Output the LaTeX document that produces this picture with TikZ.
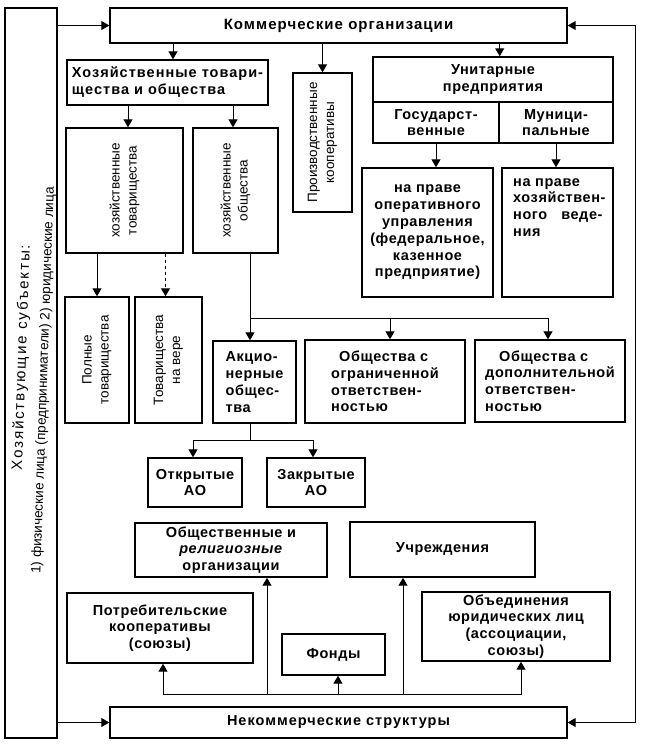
\documentclass[tikz,border=0pt]{standalone}
\usepackage{fontspec}
\setmainfont{Liberation Sans}
\newfontfamily\wide{Liberation Sans}[LetterSpace=4]
\newfontfamily\widee{Liberation Sans}[LetterSpace=7]
\newfontfamily\wider{Liberation Sans}[LetterSpace=13]
\usetikzlibrary{arrows.meta,calc}
\tikzset{
  bx/.style={draw, line width=1.4pt, inner sep=0pt, rectangle},
  tb/.style={align=center, font=\wide\bfseries\fontsize{14.5}{16.8}\selectfont},
  tbw/.style={align=center, font=\widee\bfseries\fontsize{14.5}{17}\selectfont},
  rot/.style={rotate=90, align=center, inner sep=0pt, font=\fontsize{13.5}{17}\selectfont},
  arr/.style={line width=1pt, -{Triangle[length=8pt,width=9pt]}},
  ln/.style={line width=1pt},
  wh/.style 2 args={minimum width=#1pt, minimum height=#2pt},
}
\begin{document}
\begin{tikzpicture}[x=1pt,y=-1pt]
\useasboundingbox (0,0) rectangle (646,752);
% left bar
\node[bx, wh={52}{730}] (leftbar) at (31,373) {};
\node[rotate=88, align=center, inner sep=0pt, font=\fontsize{13.5}{22}\selectfont] (lbtext) at (32,380)
  {\hspace*{44pt}{\wider\fontsize{15}{22}\selectfont Хозяйствующие субъекты:}\\1) физические лица (предприниматели) 2) юридические лица};
% top and bottom
\node[bx, tbw, font=\widee\bfseries\fontsize{15}{17}\selectfont, wh={457}{35}] (komm) at (338.5,25.5) {Коммерческие организации};
\node[bx, tbw, wh={457}{31}] (nekomm) at (338.5,722.5) {Некоммерческие структуры};
% commercial
\node[bx, tbw, align=left, wh={201}{45}] (hto) at (167.5,82.5) {Хозяйственные товари-\\щества и общества};
\node[bx, wh={59}{139}] (prod) at (322.5,142.5) {};
\node[rot] (prodtext) at (prod.center) {Производственные\\кооперативы};
\node[bx, tb, wh={240}{45}] (unitT) at (493,79.5) {Унитарные\\предприятия};
\node[bx, tb, wh={126}{41}] (gos) at (436,122.5) {Государст-\\венные};
\node[bx, tb, wh={114}{41}] (mun) at (556,122.5) {Муници-\\пальные};
\node[bx, tb, wh={131}{129}] (oper) at (427.5,232.5) {на праве\\оперативного\\управления\\(федеральное,\\казенное\\предприятие)};
\node[bx, wh={111}{129}] (hozved) at (557.5,232.5) {};
\node[tb, align=left, anchor=north west, inner sep=0pt] (hozvedtext) at (513,178) {на праве\\хозяйствен-\\ного\hspace{14pt}веде-\\ния};
\node[bx, wh={117}{125}] (htov) at (124.5,190.5) {};
\node[rot] (htovtext) at (htov.center) {хозяйственные\\товарищества};
\node[bx, wh={85}{125}] (hobsh) at (235.5,190.5) {};
\node[rot] (hobshtext) at (hobsh.center) {хозяйственные\\общества};
\node[bx, wh={64}{126}] (poln) at (97,360) {};
\node[rot] (polntext) at (poln.center) {Полные\\товарищества};
\node[bx, wh={67}{126}] (navere) at (168.5,360) {};
\node[rot] (naveretext) at (navere.center) {Товарищества\\на вере};
\node[bx, tb, align=left, wh={83}{82}] (ao) at (254.5,382) {Акцио-\\нерные\\общес-\\тва};
\node[bx, tb, align=left, wh={160}{83}] (ooo) at (385,381.5) {\hspace*{8pt}Общества с\\ограниченной\\ответствен-\\ностью};
\node[bx, tb, align=left, wh={150}{82}] (odo) at (550,381) {\hspace*{14pt}Общества с\\дополнительной\\ответствен-\\ностью};
\node[bx, tb, wh={94}{49}] (oao) at (195,482.5) {Открытые\\АО};
\node[bx, tb, wh={98}{49}] (zao) at (316,482.5) {Закрытые\\АО};
% non-commercial
\node[bx, tb, wh={192}{54}] (obsh) at (231,550) {Общественные и\\\textit{религиозные}\\организации};
\node[bx, tb, wh={185}{55}] (uchr) at (442.5,549.5) {Учреждения};
\node[bx, tb, wh={186}{70}] (potr) at (160,628) {Потребительские\\кооперативы\\(союзы)};
\node[bx, tb, wh={103}{41}] (fond) at (333.5,654.5) {Фонды};
\node[bx, tb, wh={188}{69}] (obed) at (516,626.5) {Объединения\\юридических лиц\\(ассоциации,\\союзы)};
% connectors
\draw[arr] (leftbar.east |- komm.west) -- (komm.west);
\draw[arr] (leftbar.east |- nekomm.west) -- (nekomm.west);
\coordinate (rt) at (635,25.5);
\coordinate (rb) at (635,722.5);
\draw[arr] (rt) -- (komm.east);
\draw[ln] (rt) -- (rb);
\draw[arr] (rb) -- (nekomm.east);
\draw[arr] ($(komm.south -| hto.north)+(5.5,0)$) -- ($(hto.north)+(5.5,0)$);
\draw[arr] (komm.south -| prod.north) -- (prod.north);
\draw[arr] (komm.south -| gos.north east) -- (unitT.north -| gos.north east);
\draw[arr] (gos.south) -- (gos.south |- oper.north);
\draw[arr] (mun.south) -- (mun.south |- hozved.north);
\draw[arr] ($(hto.south -| htov.north)+(3.5,0)$) -- ($(htov.north)+(3.5,0)$);
\draw[arr] ($(hto.south -| hobsh.north)+(-2.5,0)$) -- ($(hobsh.north)+(-2.5,0)$);
\draw[arr] (htov.south -| poln.north) -- (poln.north);
\draw[arr, dashed] ($(htov.south -| navere.north)+(-3,0)$) -- ($(navere.north)+(-3,0)$);
\coordinate (j1) at (250,318);
\draw[arr] (hobsh.south -| j1) -- (ao.north -| j1);
\draw[arr] (j1) -| ($(ooo.north)+(5,0)$);
\draw[arr] (j1) -| ($(odo.north)+(-2,0)$);
\coordinate (j2) at (250,440);
\draw[ln] (ao.south -| j2) -- (j2);
\draw[arr] (j2) -| ($(oao.north)+(-2,0)$);
\draw[arr] (j2) -| ($(zao.north)+(-3,0)$);
\coordinate (j3) at (267,694);
\coordinate (j4) at (403,694);
\draw[ln] (j3) -- (j4);
\draw[arr] (j3) -| ($(potr.south)+(3,0)$);
\draw[arr] (j3) -- (j3 |- obsh.south);
\draw[arr] (j3) -| ($(fond.south)+(4.5,0)$);
\draw[arr] (j4) -- (j4 |- uchr.south);
\draw[arr] (j4) -| ($(obed.south)+(5,0)$);
\end{tikzpicture}
\end{document}
